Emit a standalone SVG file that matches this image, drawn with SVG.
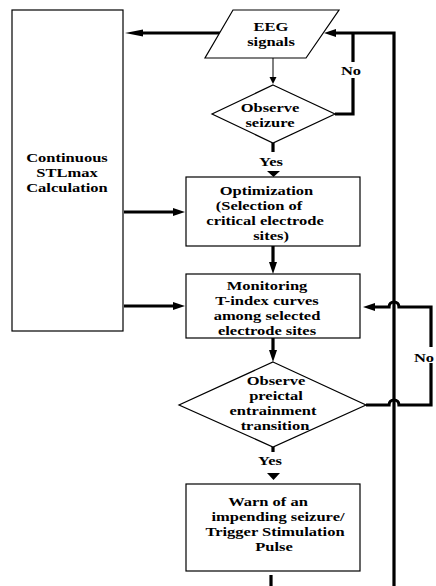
<svg xmlns="http://www.w3.org/2000/svg" width="436" height="586" viewBox="0 0 436 586">
<style>
.box{fill:#fff;stroke:#000;stroke-width:1.2}
.t{font-family:"Liberation Serif","Times New Roman",serif;font-weight:bold;font-size:13.2px;text-anchor:middle;fill:#000}
.thick{fill:none;stroke:#000;stroke-width:3.2}
.thin{fill:none;stroke:#000;stroke-width:1}
</style>
<defs>
<marker id="ah" markerUnits="userSpaceOnUse" markerWidth="14" markerHeight="10" refX="1" refY="4" orient="auto">
<path d="M0,0 L12,4 L0,8 z" fill="#000"/>
</marker>
<marker id="ahl" markerUnits="userSpaceOnUse" markerWidth="20" markerHeight="10" refX="1" refY="3.5" orient="auto">
<path d="M0,0 L18,3.5 L0,7 z" fill="#000"/>
</marker>
<marker id="ahs" markerUnits="userSpaceOnUse" markerWidth="10" markerHeight="10" refX="1" refY="3.5" orient="auto">
<path d="M0,0 L7,3.5 L0,7 z" fill="#000"/>
</marker>
</defs>
<rect width="436" height="586" fill="#fff"/>

<g id="connectors">
<path class="thick" d="M220,33 H142" marker-end="url(#ahl)"/>
<path class="thick" d="M394,586 V33 H335" marker-end="url(#ah)"/>
<path class="thick" d="M335,114 H353 V33"/>
<path class="thin" d="M273,58 V78" marker-end="url(#ahs)"/>
<path class="thick" d="M273,143 V152"/>
<polygon points="267,171 280,171 273.5,177"/>
<path class="thick" d="M124,212 H174" marker-end="url(#ah)"/>
<path class="thick" d="M124,306 H174" marker-end="url(#ah)"/>
<path class="thick" d="M273,246 V263" marker-end="url(#ah)"/>
<path class="thick" d="M273,338 V351" marker-end="url(#ah)"/>
<path class="thick" d="M273,447 V452"/>
<polygon points="267,473 280,473 273.5,480"/>
<path class="thick" d="M366,405 H389 A5,5 0 0 1 399,405 H431 V307 H399 A5,5 0 0 0 389,307 H374" marker-end="url(#ah)"/>
<path class="thick" d="M271,575 V586"/>
</g>

<g id="stlmax">
<rect class="box" x="12" y="10" width="111" height="321"/>
<text class="t" transform="translate(67,0) scale(1.25,1)"><tspan x="0" y="162">Continuous</tspan><tspan x="0" y="177">STLmax</tspan><tspan x="0" y="192">Calculation</tspan></text>
</g>

<g id="eeg">
<polygon class="box" points="233,10 339,10 306,58 205,58"/>
<text class="t" transform="translate(271,0) scale(1.25,1)"><tspan x="0" y="31">EEG</tspan><tspan x="0" y="46">signals</tspan></text>
</g>

<g id="observe-seizure">
<polygon class="box" points="273,85 335,114 273,143 212,114"/>
<text class="t" transform="translate(270,0) scale(1.25,1)"><tspan x="0" y="112">Observe</tspan><tspan x="0" y="127">seizure</tspan></text>
</g>

<g id="label-yes1">
<text class="t" transform="translate(271,166) scale(1.25,1)">Yes</text>
</g>

<g id="label-no1">
<rect x="341" y="62" width="22" height="16" fill="#fff"/>
<text class="t" transform="translate(351,75) scale(1.25,1)">No</text>
</g>

<g id="optimization">
<rect class="box" x="186" y="177" width="174" height="69"/>
<text class="t" transform="translate(266,0) scale(1.25,1)"><tspan x="0.4" y="195">Optimization</tspan><tspan x="-5.6" y="210">(Selection of</tspan><tspan x="-0.8" y="225">critical electrode</tspan><tspan x="4" y="240">sites)</tspan></text>
</g>

<g id="monitoring">
<rect class="box" x="186" y="274" width="174" height="64"/>
<text class="t" transform="translate(267,0) scale(1.25,1)"><tspan x="0" y="290.5">Monitoring</tspan><tspan x="0" y="305.5">T-index curves</tspan><tspan x="0" y="320.5">among selected</tspan><tspan x="0" y="335.5">electrode sites</tspan></text>
</g>

<g id="observe-preictal">
<polygon class="box" points="273,362 366,405 273,447 179,405"/>
<text class="t" transform="translate(275,0) scale(1.25,1)"><tspan x="0.8" y="385.5">Observe</tspan><tspan x="0.8" y="400.5">preictal</tspan><tspan x="-1.6" y="415.5">entrainment</tspan><tspan x="0" y="430">transition</tspan></text>
</g>

<g id="label-yes2">
<text class="t" transform="translate(270,465) scale(1.25,1)">Yes</text>
</g>

<g id="label-no2">
<rect x="413" y="347" width="23" height="16" fill="#fff"/>
<text class="t" transform="translate(424,362) scale(1.25,1)">No</text>
</g>

<g id="warn">
<rect class="box" x="186" y="484" width="174" height="87"/>
<text class="t" transform="translate(274,0) scale(1.25,1)"><tspan x="-4.8" y="506.5">Warn of an</tspan><tspan x="3.2" y="521.5">impending seizure/</tspan><tspan x="0.8" y="536.5">Trigger Stimulation</tspan><tspan x="0" y="551">Pulse</tspan></text>
</g>
</svg>
